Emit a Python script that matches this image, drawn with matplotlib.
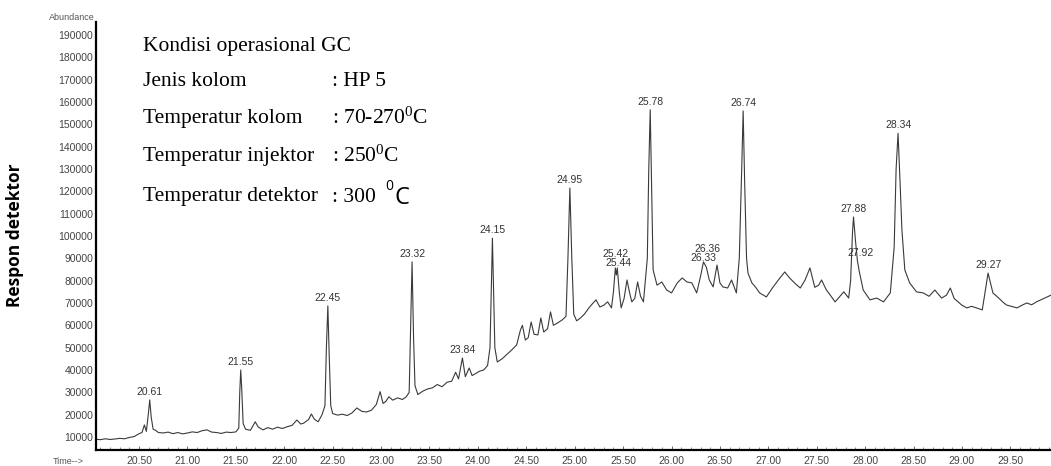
#!/usr/bin/env python3
"""GC chromatogram (Abundance vs retention time) with operating conditions."""

import numpy as np
import matplotlib
matplotlib.use("Agg")
import matplotlib.pyplot as plt

# retention time [min] and abundance
TIME = [
    20.05, 20.10, 20.15, 20.20, 20.25, 20.30, 20.35, 20.40, 20.45, 20.50,
    20.53, 20.555, 20.575, 20.595, 20.61, 20.625, 20.645, 20.67, 20.70, 20.75,
    20.80, 20.85, 20.90, 20.95, 21.00, 21.05, 21.10, 21.15, 21.20, 21.25,
    21.30, 21.35, 21.40, 21.45, 21.50, 21.53, 21.54, 21.55, 21.56, 21.575,
    21.60, 21.65, 21.70, 21.73, 21.78, 21.83, 21.88, 21.93, 21.98, 22.03,
    22.08, 22.13, 22.17, 22.20, 22.25, 22.28, 22.31, 22.35, 22.39, 22.42,
    22.435, 22.45, 22.465, 22.48, 22.50, 22.55, 22.60, 22.65, 22.70, 22.75,
    22.80, 22.85, 22.90, 22.95, 22.99, 23.02, 23.05, 23.08, 23.12, 23.17,
    23.22, 23.26, 23.29, 23.305, 23.32, 23.335, 23.35, 23.38, 23.43, 23.48,
    23.53, 23.58, 23.63, 23.68, 23.73, 23.77, 23.80, 23.84, 23.87, 23.91,
    23.94, 23.98, 24.02, 24.06, 24.10, 24.125, 24.14, 24.15, 24.16, 24.175,
    24.20, 24.25, 24.30, 24.35, 24.40, 24.44, 24.46, 24.49, 24.52, 24.55,
    24.58, 24.62, 24.65, 24.68, 24.72, 24.75, 24.78, 24.82, 24.87, 24.91,
    24.93, 24.95, 24.97, 24.99, 25.02, 25.06, 25.10, 25.15, 25.19, 25.22,
    25.26, 25.30, 25.34, 25.38, 25.40, 25.42, 25.43, 25.44, 25.46, 25.48,
    25.51, 25.54, 25.57, 25.59, 25.62, 25.65, 25.68, 25.71, 25.75, 25.765,
    25.78, 25.795, 25.81, 25.85, 25.90, 25.95, 26.00, 26.06, 26.11, 26.16,
    26.21, 26.26, 26.30, 26.33, 26.36, 26.39, 26.43, 26.47, 26.50, 26.53,
    26.58, 26.62, 26.67, 26.70, 26.725, 26.74, 26.755, 26.775, 26.79, 26.83,
    26.87, 26.91, 26.98, 27.05, 27.12, 27.17, 27.22, 27.27, 27.33, 27.38,
    27.43, 27.48, 27.52, 27.55, 27.60, 27.64, 27.69, 27.74, 27.78, 27.83,
    27.85, 27.87, 27.88, 27.90, 27.92, 27.94, 27.98, 28.05, 28.12, 28.19,
    28.26, 28.30, 28.32, 28.34, 28.36, 28.38, 28.41, 28.46, 28.53, 28.60,
    28.66, 28.72, 28.79, 28.84, 28.88, 28.92, 28.96, 29.00, 29.05, 29.10,
    29.15, 29.21, 29.24, 29.27, 29.30, 29.32, 29.38, 29.42, 29.46, 29.51,
    29.57, 29.62, 29.67, 29.72, 29.77, 29.82, 29.88, 29.92,
]
ABUNDANCE = [
    9000, 8800, 9200, 8900, 9100, 9400, 9200, 9800, 10200, 11500,
    12000, 15400, 12500, 20000, 26600, 19000, 13500, 13000, 12000, 11800,
    12200, 11500, 12000, 11400, 11800, 12300, 12000, 12800, 13200, 12200,
    12000, 11600, 12200, 12000, 12300, 14000, 30000, 40000, 32000, 16000,
    13500, 13000, 16800, 14500, 13200, 14200, 13500, 14400, 13800, 14600,
    15200, 17600, 15800, 16200, 17800, 20300, 18000, 16800, 20000, 24000,
    50000, 68700, 45000, 24000, 20500, 19800, 20200, 19600, 20800, 23000,
    21500, 21200, 22000, 24500, 30300, 25000, 26000, 28000, 26500, 27500,
    26800, 28000, 30000, 60000, 88400, 55000, 33000, 29000, 30500, 31500,
    32000, 33500, 32500, 34500, 35000, 39000, 36000, 45400, 37000, 40900,
    37500, 38500, 39500, 40000, 42000, 50000, 80000, 99000, 80000, 50000,
    43600, 45000, 47000, 49000, 51200, 58000, 60000, 53400, 54500, 61500,
    56000, 55700, 63300, 57000, 58500, 66000, 60000, 61000, 62400, 64000,
    90000, 121500, 90000, 65000, 62000, 63300, 65000, 68000, 70000, 71400,
    68200, 69000, 70500, 67800, 75000, 85700, 82500, 85700, 75000, 67800,
    72000, 80300, 74000, 70500, 72000, 79400, 73000, 70500, 90000, 130000,
    156500, 120000, 84800, 78000, 79400, 75800, 74500, 79000, 81200, 79400,
    79000, 74500, 82000, 88400, 86000, 80300, 77200, 87000, 79000, 77200,
    76700, 80300, 74500, 90000, 130000, 156000, 125000, 90000, 83400, 79000,
    77000, 74500, 72700, 77200, 81200, 83900, 81200, 79000, 76700, 80300,
    85700, 77000, 78000, 80300, 75800, 73500, 70500, 73000, 75000, 72200,
    80000, 102000, 108500, 98000, 89000, 84000, 75800, 71400, 72200, 70500,
    74500, 95000, 130000, 146000, 125000, 102700, 84800, 79000, 75000, 74500,
    73000, 75800, 72200, 73500, 76700, 72000, 70500, 69000, 67800, 68500,
    67800, 66900, 75000, 83400, 78000, 74500, 72200, 70500, 69100, 68500,
    67800, 69000, 70000, 69200, 70500, 71500, 72700, 73500,
]

# labelled peaks (retention times as printed)
PEAK_LABELS = ["20.61", "21.55", "22.45", "23.32", "23.84", "24.15", "24.95",
               "25.42", "25.44", "25.78", "26.36", "26.33", "26.74", "27.88",
               "27.92", "28.34", "29.27"]

X_TICKS = [20.50, 21.00, 21.50, 22.00, 22.50, 23.00, 23.50, 24.00, 24.50,
           25.00, 25.50, 26.00, 26.50, 27.00, 27.50, 28.00, 28.50, 29.00, 29.50]
Y_TICKS = list(range(10000, 200000, 10000))

CONDITIONS = [
    ("Kondisi operasional GC", ""),
    ("Jenis kolom", ": HP 5"),
    ("Temperatur kolom", ": 70-270$^{0}$C"),
    ("Temperatur injektor", ": 250$^{0}$C"),
    ("Temperatur detektor", ": 300"),
]

# label offsets in points where labels crowd each other
LABEL_OFFSET = {
    "25.42": (0, 6.5), "25.44": (1, 0.0),
    "26.36": (1, 9.5), "26.33": (0, -0.7),
    "27.92": (2, 2.0),
}

W, H = 1051, 466
GRAY = "#555555"


def main():
    plt.rcParams.update({
        "font.family": ["Liberation Sans", "DejaVu Sans"],
        "mathtext.fontset": "custom",
        "mathtext.rm": "Liberation Serif",
        "mathtext.it": "Liberation Serif:italic",
        "figure.facecolor": "white",
    })
    fig = plt.figure(figsize=(W / 100, H / 100), dpi=100)
    ax = fig.add_axes([96 / W, 1 - 450 / H, 1 - 96 / W, (450 - 22) / H])

    t = np.array(TIME)
    a = np.array(ABUNDANCE)
    ax.plot(t, a, color="#3a3a3a", linewidth=0.8)

    ax.set_xlim(20.055, 29.92)
    ax.set_ylim(4180, 195800)
    ax.set_xticks(X_TICKS)
    ax.set_xticklabels([f"{v:.2f}" for v in X_TICKS])
    ax.set_xticks(np.arange(20.1, 29.95, 0.1), minor=True)
    ax.set_yticks(Y_TICKS)
    ax.set_yticklabels([str(v) for v in Y_TICKS])

    ax.tick_params(axis="x", direction="in", length=3, width=0.6, colors=GRAY,
                   labelsize=7.5, pad=4)
    ax.tick_params(axis="x", which="minor", direction="in", length=2,
                   width=0.5, color=GRAY)
    ax.tick_params(axis="y", length=0, colors=GRAY, labelsize=7.5, pad=2)
    for lab in ax.get_xticklabels() + ax.get_yticklabels():
        lab.set_color("#444444")

    for side in ("top", "right"):
        ax.spines[side].set_visible(False)
    for side in ("left", "bottom"):
        ax.spines[side].set_linewidth(1.6)
        ax.spines[side].set_color("black")

    for lab in PEAK_LABELS:
        rt = float(lab)
        y = np.interp(rt, t, a)
        dx, dy = LABEL_OFFSET.get(lab, (0, 2.0))
        ax.annotate(lab, (rt, y), xytext=(dx, dy), textcoords="offset points",
                    ha="center", va="bottom", fontsize=7.5, color="#333333")

    # operating conditions block
    ys = [46.7, 82, 118, 156, 197]
    for (name, val), yp in zip(CONDITIONS, ys):
        fig.text(143 / W, 1 - yp / H, name, family="Liberation Serif",
                 fontsize=15.5, va="center", ha="left", color="black")
        if val:
            fig.text(332 / W, 1 - yp / H, val, family="Liberation Serif",
                     fontsize=15.5, va="center", ha="left", color="black")
    fig.text(385 / W, 1 - 187 / H, "0", family="Open Sans", fontsize=10,
             va="center", ha="left", color="black")
    fig.text(394 / W, 1 - 198 / H, "C", family="Open Sans", fontsize=17,
             va="center", ha="left", color="black")

    fig.text(95 / W, 1 - 17 / H, "Abundance", fontsize=6.5, color=GRAY,
             ha="right", va="center")
    fig.text(68 / W, 1 - 461 / H, "Time-->", fontsize=6.5, color=GRAY,
             ha="center", va="center")
    fig.text(15 / W, 1 - 235 / H, "Respon detektor", family="Open Sans",
             fontweight="bold", fontsize=12.5, rotation=90, ha="center",
             va="center", color="black")

    fig.savefig("out.png", dpi=100)
    plt.close(fig)


if __name__ == "__main__":
    main()
